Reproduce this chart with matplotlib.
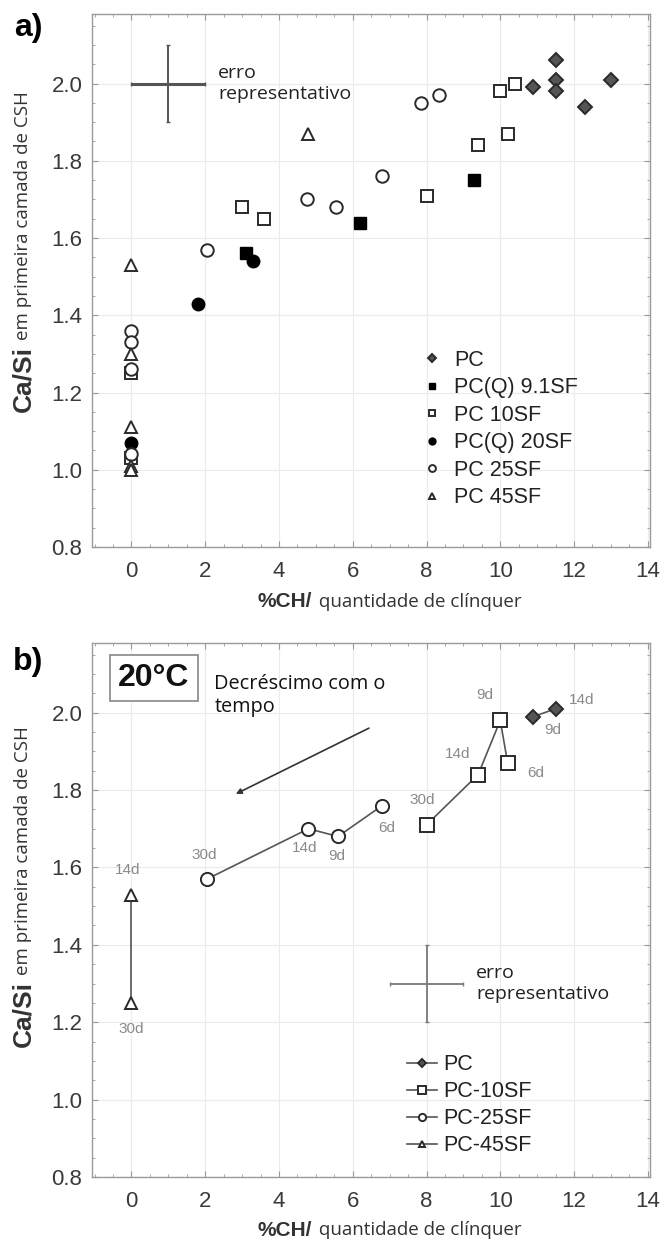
import matplotlib
matplotlib.use("Agg")
import matplotlib.pyplot as plt
from matplotlib.ticker import MultipleLocator

# -----------------------------
# Data - panel a
# -----------------------------
pc_x = [10.9, 11.5, 11.5, 11.5, 12.3, 13.0]
pc_y = [1.99, 2.06, 2.01, 1.98, 1.94, 2.01]

q91_x = [3.1, 6.2, 9.3]
q91_y = [1.56, 1.64, 1.75]

sf10_x = [0, 0, 3.0, 3.6, 8.0, 9.4, 10.0, 10.2, 10.4]
sf10_y = [1.25, 1.03, 1.68, 1.65, 1.71, 1.84, 1.98, 1.87, 2.00]

q20_x = [0, 1.8, 3.3]
q20_y = [1.07, 1.43, 1.54]

sf25_x = [0, 0, 0, 0, 2.05, 4.75, 5.55, 6.8, 7.85, 8.35]
sf25_y = [1.36, 1.33, 1.26, 1.04, 1.57, 1.70, 1.68, 1.76, 1.95, 1.97]

sf45_x = [0, 0, 0, 0, 0, 4.8]
sf45_y = [1.53, 1.30, 1.11, 1.01, 1.00, 1.87]

# -----------------------------
# Data - panel b (20 C, evolution with age)
# -----------------------------
b_pc_x = [10.9, 11.5]
b_pc_y = [1.99, 2.01]
b_pc_age = ["9d", "14d"]

b_sf10_x = [10.2, 10.0, 9.4, 8.0]
b_sf10_y = [1.87, 1.98, 1.84, 1.71]
b_sf10_age = ["6d", "9d", "14d", "30d"]

b_sf25_x = [6.8, 5.6, 4.8, 2.05]
b_sf25_y = [1.76, 1.68, 1.70, 1.57]
b_sf25_age = ["6d", "9d", "14d", "30d"]

b_sf45_x = [0, 0]
b_sf45_y = [1.53, 1.25]
b_sf45_age = ["14d", "30d"]

# offsets (points) of the age labels
off_pc = [(14, -10), (19, 6)]
off_sf10 = [(20, -7), (-11, 18), (-15, 15), (-3, 18)]
off_sf25 = [(3, -16), (-1, -14), (-3, -14), (-2, 17)]
off_sf45 = [(-3, 18), (0, -19)]

# -----------------------------
# Style
# -----------------------------
W, H = 665, 1242
TXT = "#333333"
EDGE = "#2a2a2a"
NUM = "Liberation Sans"
CAL = "Open Sans"

plt.rcParams["font.family"] = [NUM, "DejaVu Sans"]


def px(x, y):
    return x / W, 1 - y / H


def style_axes(ax):
    ax.set_xlim(-1.07, 14.06)
    ax.set_ylim(0.8, 2.18)
    ax.xaxis.set_major_locator(MultipleLocator(2))
    ax.xaxis.set_minor_locator(MultipleLocator(0.5))
    ax.yaxis.set_major_locator(MultipleLocator(0.2))
    ax.yaxis.set_minor_locator(MultipleLocator(0.05))
    ax.yaxis.set_major_formatter(matplotlib.ticker.FormatStrFormatter("%.1f"))
    ax.grid(True, which="major", color="#ebebeb", lw=0.8)
    ax.set_axisbelow(True)
    ax.tick_params(which="both", direction="in", top=True, right=True,
                   color="#999999", labelsize=16, labelcolor="#3a3a3a")
    ax.tick_params(which="major", length=4)
    ax.tick_params(which="minor", length=2.5)
    ax.tick_params(axis="x", which="major", pad=10)
    ax.tick_params(axis="y", which="major", pad=7)
    for s in ax.spines.values():
        s.set_color("#9a9a9a")
        s.set_linewidth(1.0)


def two_part(fig, x, y, bold, normal, rotation=0, bsize=16, nsize=12):
    r = fig.canvas.get_renderer()
    if rotation == 0:
        t1 = fig.text(*px(x, y), bold, fontsize=bsize, fontweight="bold",
                      color=TXT, ha="left", va="center", family=NUM)
        bb = t1.get_window_extent(r)
        fig.text(bb.x1 / W + 0.004, 1 - y / H, normal, fontsize=nsize,
                 color=TXT, ha="left", va="center", family=CAL)
    else:
        t1 = fig.text(*px(x, y), bold, fontsize=bsize, fontweight="bold",
                      color=TXT, ha="center", va="bottom", rotation=90,
                      family=NUM)
        bb = t1.get_window_extent(r)
        fig.text(x / W, bb.y1 / H + 0.005, normal, fontsize=nsize,
                 color=TXT, ha="center", va="bottom", rotation=90, family=CAL)


fig = plt.figure(figsize=(W / 100, H / 100), dpi=100)
fig.canvas.draw()

# -----------------------------
# Panel a
# -----------------------------
ax = fig.add_axes([92 / W, 1 - 547 / H, 558 / W, 533 / H])
style_axes(ax)

ms = 9
kw_open = dict(ls="none", mfc="white", mec=EDGE, mew=1.4)
ax.plot(pc_x, pc_y, "D", ms=7.5, mfc="#555555", mec=EDGE, mew=1.4, ls="none", label="PC")
ax.plot(q91_x, q91_y, "s", ms=ms, mfc="black", mec="black", ls="none", label="PC(Q) 9.1SF")
ax.plot(sf10_x, sf10_y, "s", ms=ms, label="PC 10SF", **kw_open)
ax.plot(q20_x, q20_y, "o", ms=ms, mfc="black", mec="black", ls="none", label="PC(Q) 20SF")
ax.plot(sf25_x, sf25_y, "o", ms=ms, label="PC 25SF", **kw_open)
ax.plot(sf45_x, sf45_y, "^", ms=ms, label="PC 45SF", **kw_open)

# erro representativo
ax.errorbar(1.0, 2.0, xerr=1.0, fmt="none", ecolor="#555555", elinewidth=2.2,
            capsize=1.5)
ax.errorbar(1.0, 2.0, yerr=0.1, fmt="none", ecolor="#555555", elinewidth=1.4,
            capsize=1.5)
ax.text(2.35, 2.0, "erro\nrepresentativo", fontsize=14, color="#222222",
        family=CAL, va="center", ha="left", linespacing=1.2)

ax.legend(loc="upper left", bbox_to_anchor=(0.575, 0.39), frameon=False,
          fontsize=15.5, markerscale=0.55, handlelength=0.8, handletextpad=0.6,
          labelspacing=0.3, borderpad=0, labelcolor="#222222")

# -----------------------------
# Panel b
# -----------------------------
bx = fig.add_axes([92 / W, 1 - 1177 / H, 558 / W, 534 / H])
style_axes(bx)

lkw = dict(color="#555555", lw=1.2, mec=EDGE, mew=1.4)
bx.plot(b_pc_x, b_pc_y, "-D", ms=7, mfc="#555555", label="PC", **lkw)
bx.plot(b_sf10_x, b_sf10_y, "-s", ms=9.5, mfc="white", label="PC-10SF", **lkw)
bx.plot(b_sf25_x, b_sf25_y, "-o", ms=9.5, mfc="white", label="PC-25SF", **lkw)
bx.plot(b_sf45_x, b_sf45_y, "-^", ms=8.5, mfc="white", label="PC-45SF", **lkw)

for xs, ys, ages, offs in [(b_pc_x, b_pc_y, b_pc_age, off_pc),
                           (b_sf10_x, b_sf10_y, b_sf10_age, off_sf10),
                           (b_sf25_x, b_sf25_y, b_sf25_age, off_sf25),
                           (b_sf45_x, b_sf45_y, b_sf45_age, off_sf45)]:
    for xv, yv, a, o in zip(xs, ys, ages, offs):
        bx.annotate(a, (xv, yv), xytext=o, textcoords="offset points",
                    ha="center", va="center", fontsize=11, color="#8a8a8a")

bx.errorbar(8.0, 1.3, xerr=1.0, yerr=0.1, fmt="none", ecolor="#7a7a7a",
            elinewidth=1.3, capsize=1.5)
bx.text(9.35, 1.3, "erro\nrepresentativo", fontsize=14, color="#222222",
        family=CAL, va="center", ha="left", linespacing=1.2)

bx.annotate("", xy=(2.83, 1.79), xytext=(6.44, 1.96),
            arrowprops=dict(arrowstyle="-|>", color="#333333", lw=1.2,
                            mutation_scale=8, shrinkA=0, shrinkB=0))
bx.text(2.25, 2.045, "Decréscimo com o\ntempo", fontsize=14.3, color="#111111",
        family=CAL, va="center", ha="left", linespacing=1.2)
bx.text(0.111, 0.934, "20°C", transform=bx.transAxes, fontsize=23,
        fontweight="bold", ha="center", va="center", color="#111111",
        bbox=dict(boxstyle="square,pad=0.25", fc="white", ec="#888888", lw=1.2))

bx.legend(loc="upper left", bbox_to_anchor=(0.545, 0.25), frameon=False,
          fontsize=15.5, markerscale=0.55, handlelength=1.4, handletextpad=0.3,
          labelspacing=0.28, borderpad=0, labelcolor="#222222")

# -----------------------------
# Labels
# -----------------------------
fig.text(*px(28, 28), "a)", fontsize=23, fontweight="bold", ha="center", va="center")
fig.text(*px(28, 662), "b)", fontsize=23, fontweight="bold", ha="center", va="center")

two_part(fig, 257, 602, "%CH/", " quantidade de clínquer", bsize=15, nsize=13.5)
two_part(fig, 257, 1230, "%CH/", " quantidade de clínquer", bsize=15, nsize=13.5)
two_part(fig, 23, 412, "Ca/Si", "em primeira camada de CSH", rotation=90, bsize=19, nsize=13.5)
two_part(fig, 23, 1047, "Ca/Si", "em primeira camada de CSH", rotation=90, bsize=19, nsize=13.5)

fig.savefig("out.png", dpi=100)
